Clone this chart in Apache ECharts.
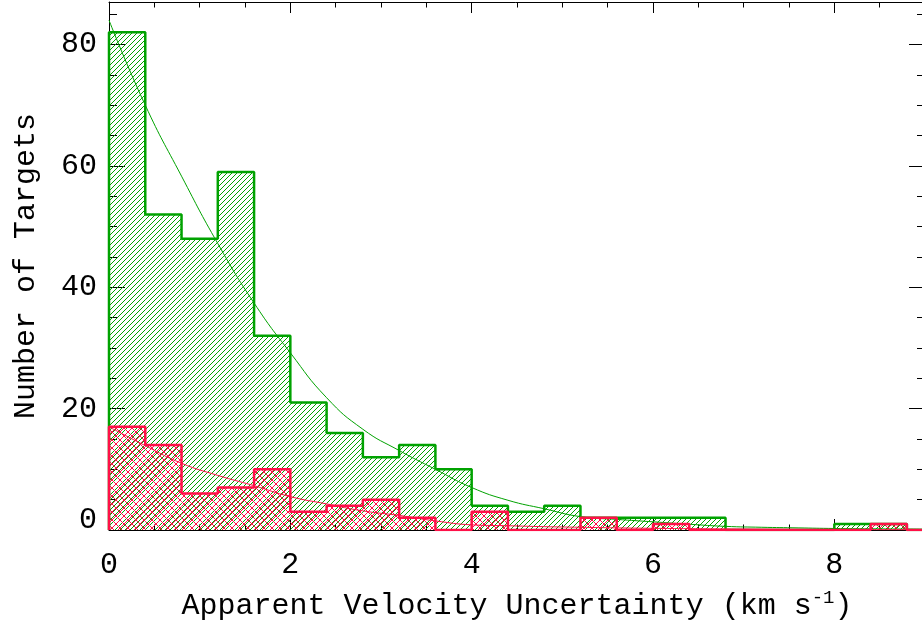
<!DOCTYPE html>
<html>
<head>
<meta charset="utf-8">
<script src="https://cdn.jsdelivr.net/npm/echarts@6/dist/echarts.min.js"></script>
<style>
  html, body { margin: 0; padding: 0; background: #fff; }
  #chart { width: 922px; height: 626px; }
</style>
</head>
<body>
<div id="chart"></div>
<script>
// Histogram bins (left edges, width 0.4 km/s)
const binWidth = 0.4;
const binStarts = [0, 0.4, 0.8, 1.2, 1.6, 2.0, 2.4, 2.8, 3.2, 3.6, 4.0, 4.4,
                   4.8, 5.2, 5.6, 6.0, 6.4, 6.8, 7.2, 7.6, 8.0, 8.4];
// Counts per bin: full sample and subset
const allCounts    = [82, 52, 48, 59, 32, 21, 16, 12, 14, 10, 4, 3, 4, 2, 2, 2, 2, 0, 0, 0, 1, 1];
const subsetCounts = [17, 14, 6, 7, 10, 3, 4, 5, 2, 0, 3, 0, 0, 2, 0, 1, 0, 0, 0, 0, 0, 1];

// Fitted curves
const fitX      = [0, 0.4, 0.8, 1.2, 1.6, 2.0, 2.4, 2.8, 3.2, 3.6, 4.0, 4.4,
                   4.8, 5.2, 5.6, 6.0, 6.4, 6.8, 7.2, 7.6, 8.0, 8.4, 8.8, 9.0];
const allFitY   = [84, 70, 58.3, 47.2, 37.4, 29.2, 21.8, 16.6, 13.1, 10.0, 7.0, 4.9,
                   3.5, 2.2, 1.75, 1.35, 0.95, 0.6, 0.45, 0.35, 0.25, 0.2, 0.15, 0.12];
const subsetFitY= [17, 13.9, 11.0, 9.0, 7.3, 5.5, 4.3, 3.15, 2.4, 1.5, 0.85, 0.7,
                   0.55, 0.45, 0.35, 0.28, 0.22, 0.17, 0.13, 0.1, 0.08, 0.06, 0.05, 0.04];

// Axis ticks
const xMajorTicks = [0, 2, 4, 6, 8];
const xMinorTicks = [0.5, 1, 1.5, 2.5, 3, 3.5, 4.5, 5, 5.5, 6.5, 7, 7.5, 8.5];
const yMajorTicks = [0, 20, 40, 60, 80];
const yMinorTicks = [5, 10, 15, 25, 30, 35, 45, 50, 55, 65, 70, 75, 85];

const GREEN = '#00a200';
const RED = '#ff1048';
const FONT = 'Liberation Mono';
const FS = 30;

// Hatch tiles: "/" diagonals, optionally crossed with "\"
function hatchTile(color, size, cross) {
  const c = document.createElement('canvas');
  c.width = size; c.height = size;
  const g = c.getContext('2d');
  g.strokeStyle = color;
  g.lineWidth = 1;
  g.beginPath();
  g.moveTo(-1, size + 1); g.lineTo(size + 1, -1);
  g.moveTo(-1, 1); g.lineTo(1, -1);
  g.moveTo(size - 1, size + 1); g.lineTo(size + 1, size - 1);
  if (cross) {
    g.moveTo(-1, -1); g.lineTo(size + 1, size + 1);
    g.moveTo(size - 1, -1); g.lineTo(size + 1, 1);
    g.moveTo(-1, size - 1); g.lineTo(1, size + 1);
  }
  g.stroke();
  return c;
}

const greenPattern = { image: hatchTile(GREEN, 5, false), repeat: 'repeat' };
const redPattern = { image: hatchTile(RED, 8, true), repeat: 'repeat' };

function binData(counts) {
  return counts.map((v, i) => [binStarts[i], binStarts[i] + binWidth, v]);
}

function outline(counts) {
  const pts = [[0, 0]];
  counts.forEach((v, i) => pts.push([binStarts[i], v]));
  pts.push([binStarts[binStarts.length - 1] + binWidth, 0]);
  pts.push([9, 0]);
  return pts;
}

function fillSeries(counts, pattern) {
  return {
    type: 'custom',
    xAxisIndex: 0, yAxisIndex: 0,
    clip: true,
    silent: true,
    data: binData(counts),
    renderItem: function (params, api) {
      const p0 = api.coord([api.value(0), 0]);
      const p1 = api.coord([api.value(1), api.value(2)]);
      return {
        type: 'rect',
        shape: { x: p0[0], y: p1[1], width: p1[0] - p0[0], height: p0[1] - p1[1] },
        style: { fill: pattern, stroke: null }
      };
    }
  };
}

function outlineSeries(counts, color) {
  return {
    type: 'line', step: 'end', xAxisIndex: 0, yAxisIndex: 0,
    symbol: 'none', silent: true, animation: false,
    lineStyle: { color: color, width: 2.5 },
    data: outline(counts)
  };
}

function curveSeries(ys, color) {
  return {
    type: 'line', smooth: 0.5, xAxisIndex: 0, yAxisIndex: 0,
    symbol: 'none', silent: true, animation: false,
    lineStyle: { color: color, width: 1 },
    data: fitX.map((x, i) => [x, ys[i]])
  };
}

const labelStyle = { fontFamily: FONT, fontSize: FS, color: '#000' };

function xAxisDef(position, ticks, len, withLabels) {
  const a = {
    type: 'value', min: 0, max: 9, position: position,
    axisLine: { show: withLabels !== null, onZero: false, lineStyle: { color: '#000', width: 1 } },
    axisTick: { show: true, inside: true, length: len, customValues: ticks, lineStyle: { color: '#000', width: 1 } },
    axisLabel: { show: false },
    splitLine: { show: false }
  };
  if (withLabels) {
    a.axisLabel = Object.assign({ show: true, customValues: xMajorTicks, margin: 20 }, labelStyle);
    a.name = 'Apparent Velocity Uncertainty (km s{sup|-1})';
    a.nameLocation = 'middle';
    a.nameGap = 58;
    a.nameTextStyle = {
      fontFamily: FONT, fontSize: FS, color: '#000',
      rich: { sup: { fontFamily: FONT, fontSize: 19, color: '#000', padding: [0, 0, 18, 0] } }
    };
  }
  return a;
}

function yAxisDef(position, ticks, len, withLabels) {
  const a = {
    type: 'value', min: 0, max: 87, position: position,
    axisLine: { show: withLabels !== null, onZero: false, lineStyle: { color: '#000', width: 1 } },
    axisTick: { show: true, inside: true, length: len, customValues: ticks, lineStyle: { color: '#000', width: 1 } },
    axisLabel: { show: false },
    splitLine: { show: false }
  };
  if (withLabels) {
    a.axisLabel = Object.assign({
      show: true, customValues: yMajorTicks, margin: 12,
      formatter: v => (v === 0 ? '{z|0}' : String(v)),
      rich: { z: { fontFamily: FONT, fontSize: FS, color: '#000', padding: [0, 0, 20, 0] } }
    }, labelStyle);
    a.name = 'Number of Targets';
    a.nameLocation = 'middle';
    a.nameGap = 68;
    a.nameTextStyle = { fontFamily: FONT, fontSize: FS, color: '#000' };
  }
  return a;
}

const chart = echarts.init(document.getElementById('chart'), null, { renderer: 'canvas' });
chart.setOption({
  animation: false,
  backgroundColor: '#fff',
  grid: { left: 109, top: 2, width: 816, height: 528, containLabel: false, outerBoundsMode: 'none' },
  xAxis: [
    xAxisDef('bottom', xMajorTicks, 11, true),
    xAxisDef('bottom', xMinorTicks, 5.5, null),
    xAxisDef('top', xMajorTicks, 11, false),
    xAxisDef('top', xMinorTicks, 5.5, null)
  ],
  yAxis: [
    yAxisDef('left', yMajorTicks, 16, true),
    yAxisDef('left', yMinorTicks, 8, null),
    yAxisDef('right', yMajorTicks, 16, false),
    yAxisDef('right', yMinorTicks, 8, null)
  ],
  series: [
    fillSeries(allCounts, greenPattern),
    outlineSeries(allCounts, GREEN),
    curveSeries(allFitY, GREEN),
    fillSeries(subsetCounts, redPattern),
    outlineSeries(subsetCounts, RED),
    curveSeries(subsetFitY, RED)
  ]
});
</script>
</body>
</html>
